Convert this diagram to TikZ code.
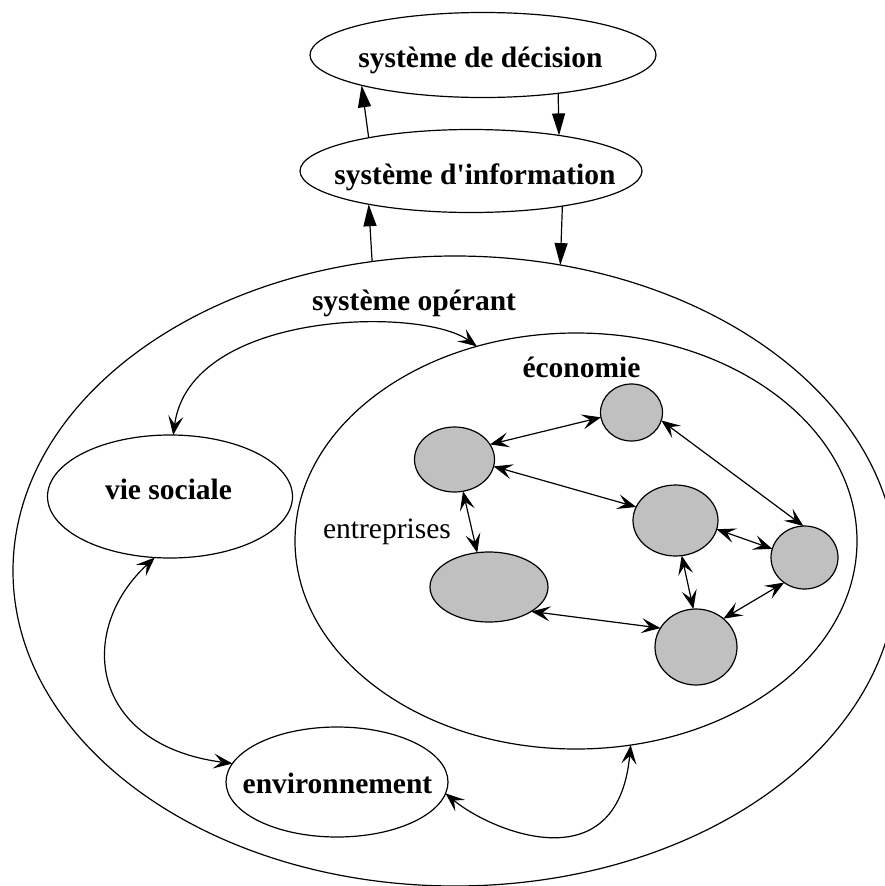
\documentclass[tikz,border=0pt]{standalone}
\usepackage{fontspec}
\setmainfont{Liberation Serif}
\usetikzlibrary{shapes.geometric,arrows.meta}
\definecolor{firmgray}{RGB}{192,192,192}
\begin{document}
\begin{tikzpicture}[x=1pt,y=-1pt,
  ell/.style={draw=black, ellipse, line width=1.2pt, inner sep=0pt, outer sep=0pt},
  firm/.style={ell, fill=firmgray},
  lbl/.style={font=\fontsize{29.5}{34}\selectfont\bfseries, inner sep=0pt, anchor=base},
  plain/.style={font=\fontsize{29.5}{34}\selectfont, inner sep=0pt, anchor=base},
  tri/.style={-{Triangle[length=22pt,width=13pt]}, line width=1.2pt},
  dbl/.style={{Stealth[length=19pt,width=15pt,inset=8pt]}-{Stealth[length=19pt,width=15pt,inset=8pt]}, line width=1.2pt}
]
\useasboundingbox (0,0) rectangle (885,886);
\fill[white] (0,0) rectangle (885,886);

% containers
\node[ell, minimum width=884pt, minimum height=630pt] (op) at (455,571) {};
\node[ell, minimum width=562pt, minimum height=416pt] (eco) at (576,541) {};
\node[ell, minimum width=346pt, minimum height=85pt] (dec) at (483,55) {};
\node[ell, minimum width=342pt, minimum height=83pt] (info) at (471,171) {};
\node[ell, minimum width=245pt, minimum height=123pt] (vie) at (170,496.5) {};
\node[ell, minimum width=222pt, minimum height=110pt] (env) at (337,782) {};

% firms
\node[firm, minimum width=62pt, minimum height=57pt] (c1) at (631.5,412.5) {};
\node[firm, minimum width=80pt, minimum height=65pt] (c2) at (454.5,459.5) {};
\node[firm, minimum width=85pt, minimum height=71pt] (c3) at (675.5,520.5) {};
\node[firm, minimum width=67pt, minimum height=63pt] (c4) at (804.5,557.5) {};
\node[firm, minimum width=118pt, minimum height=70pt] (c5) at (489,587) {};
\node[firm, minimum width=82pt, minimum height=76pt] (c6) at (696,647) {};

% labels
\node[lbl] (tdec) at (480.5,67) {système de décision};
\node[lbl] (tinfo) at (475,184) {système d\textquotesingle information};
\node[lbl] (top) at (414,310) {système opérant};
\node[lbl] (teco) at (581.5,377) {économie};
\node[plain] (tent) at (387,538) {entreprises};
\node[lbl] (tvie) at (168.5,499) {vie sociale};
\node[lbl] (tenv) at (337.5,793) {environnement};

% vertical flows
\draw[tri] (info.162.9) -- (dec.194.8);
\draw[tri] (dec.-27.4) -- (info.22.7);
\draw[tri] (op.105.6) -- (info.198.1);
\draw[tri] (info.-21.7) -- (op.71.1);

% firm links
\draw[dbl] (c2.23.4) -- (c1.189);
\draw[dbl] (c2.-10) -- (c3.161.6);
\draw[dbl] (c1.-15.8) -- (c4.92.6);
\draw[dbl] (c2.-75.3) -- (c5.109.4);
\draw[dbl] (c3.-12.9) -- (c4.165.7);
\draw[dbl] (c3.-80.2) -- (c6.94.4);
\draw[dbl] (c4.-129.7) -- (c6.46);
\draw[dbl] (c5.-30.6) -- (c6.152.2);

% curved links
\draw[dbl] (vie.87) .. controls +(17,-125) and +(-55,-40) .. (eco.117.6);
\draw[dbl] (vie.-104) .. controls +(-79,73) and +(-143,-19) .. (env.170);
\draw[dbl] (env.-6) .. controls +(44,37) and +(-13,140) .. (eco.-75);
\end{tikzpicture}
\end{document}
